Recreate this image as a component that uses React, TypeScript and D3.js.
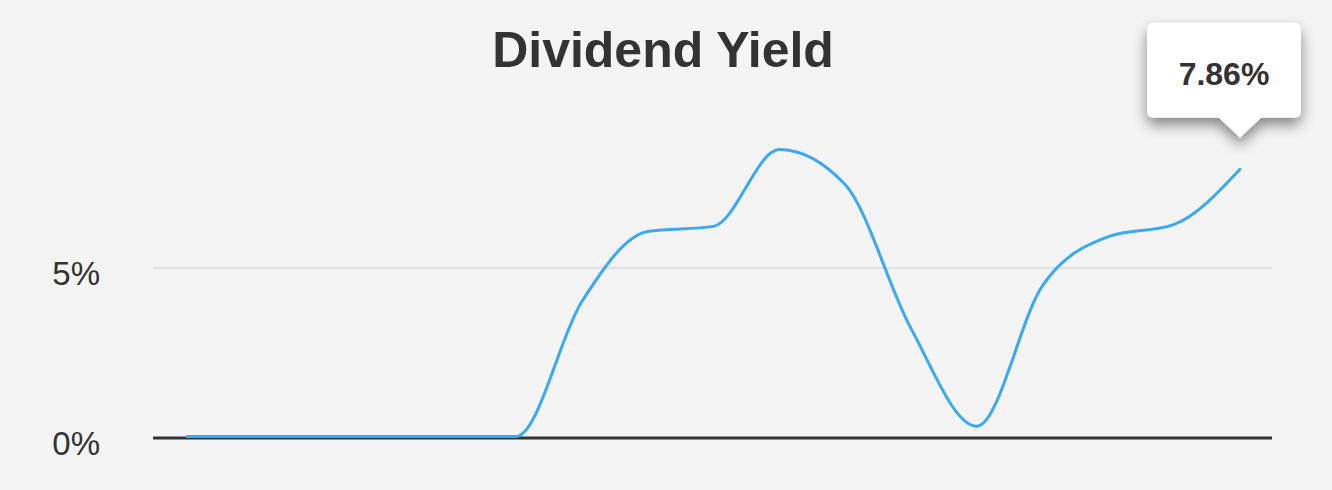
import React from "react";
import * as d3 from "d3";

const periods: string[] = [
  "P1", "P2", "P3", "P4", "P5", "P6", "P7", "P8", "P9",
  "P10", "P11", "P12", "P13", "P14", "P15", "P16", "P17",
];
const yieldValues: number[] = [
  0, 0, 0, 0, 0, 0, 3.97, 6.03, 6.18, 8.44, 7.41, 3.18, 0.3, 4.44, 5.88, 6.24, 7.86,
];
const yTicks: number[] = [0, 5];
const title = "Dividend Yield";
const tooltipLabel = "7.86%";

const W = 1332;
const H = 490;

export default function App() {
  const x = d3.scalePoint<string>().domain(periods).range([187, 1240]);
  const y = d3.scaleLinear().domain([0, 5]).range([438, 268]);
  const line = d3
    .line<number>()
    .x((_, i) => x(periods[i]) as number)
    .y((d) => y(d))
    .curve(d3.curveMonotoneX);
  const path = line(yieldValues) || "";

  const lastIdx = yieldValues.length - 1;
  const px = x(periods[lastIdx]) as number;
  const py = y(yieldValues[lastIdx]);
  const tipY = py - 33;
  const boxBottom = tipY - 20;
  const boxTop = boxBottom - 95;
  const boxCx = px - 16;
  const boxL = boxCx - 77;
  const boxR = boxCx + 77;
  const r = 7;
  const tooltipPath = [
    `M${boxL + r},${boxTop}`,
    `L${boxR - r},${boxTop}`,
    `Q${boxR},${boxTop} ${boxR},${boxTop + r}`,
    `L${boxR},${boxBottom - r}`,
    `Q${boxR},${boxBottom} ${boxR - r},${boxBottom}`,
    `L${px + 21},${boxBottom}`,
    `L${px},${tipY}`,
    `L${px - 21},${boxBottom}`,
    `L${boxL + r},${boxBottom}`,
    `Q${boxL},${boxBottom} ${boxL},${boxBottom - r}`,
    `L${boxL},${boxTop + r}`,
    `Q${boxL},${boxTop} ${boxL + r},${boxTop}`,
    "Z",
  ].join(" ");

  return (
    <svg
      width={W}
      height={H}
      style={{ position: "fixed", left: 0, top: 0, background: "#f4f4f4" }}
      fontFamily="'Liberation Sans', Arial, Helvetica, sans-serif"
    >
      <defs>
        <filter id="shadow" x="-30%" y="-30%" width="160%" height="180%">
          <feDropShadow dx="0" dy="7" stdDeviation="7" floodColor="#000" floodOpacity="0.45" />
        </filter>
      </defs>
      <rect width={W} height={H} fill="#f4f4f4" />
      <text
        x={663}
        y={67}
        textAnchor="middle"
        fontSize={50}
        fontWeight="bold"
        fill="#333"
      >
        {title}
      </text>
      {yTicks.map((t) => (
        <g key={t}>
          <line
            x1={153}
            x2={1272}
            y1={y(t)}
            y2={y(t)}
            stroke={t === 0 ? "#333" : "#e3e3e3"}
            strokeWidth={t === 0 ? 3 : 2.5}
          />
          <text
            x={100}
            y={y(t) + 17}
            textAnchor="end"
            fontSize={33}
            fill="#333"
          >
            {`${t}%`}
          </text>
        </g>
      ))}
      <path d={path} fill="none" stroke="#3aa9f4" strokeWidth={3} strokeLinejoin="round" strokeLinecap="round" transform="translate(0,-1.5)" />
      <path d={tooltipPath} fill="#fff" filter="url(#shadow)" />
      <text
        x={boxCx}
        y={boxTop + 62}
        textAnchor="middle"
        fontSize={32}
        fontWeight="bold"
        fill="#333"
      >
        {tooltipLabel}
      </text>
    </svg>
  );
}
